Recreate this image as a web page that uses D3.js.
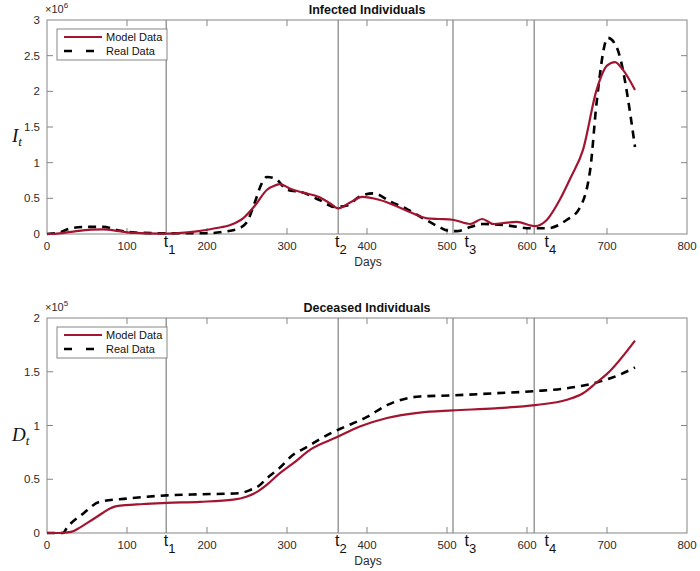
<!DOCTYPE html>
<html>
<head>
<meta charset="utf-8">
<script src="https://cdn.jsdelivr.net/npm/d3@7"></script>
<style>
  body { margin: 0; background: white; }
  text { font-family: "Liberation Sans", Arial, sans-serif; }
</style>
</head>
<body>
<script>

// Infected, values in millions
var infModelDays = [0, 10, 30, 55, 70, 90, 110, 140, 160, 190, 210, 230, 245, 260, 275, 285, 291, 305, 320, 340, 355, 364, 380, 394, 415, 435, 455, 475, 490, 507, 529, 544, 558, 575, 587, 610, 625, 641, 655, 670, 687, 700, 710, 720, 735];
var infModelVals = [0, 0.003, 0.03, 0.06, 0.065, 0.04, 0.015, 0.005, 0.01, 0.04, 0.08, 0.13, 0.22, 0.4, 0.62, 0.68, 0.7, 0.63, 0.58, 0.52, 0.42, 0.36, 0.45, 0.52, 0.48, 0.4, 0.3, 0.22, 0.21, 0.2, 0.14, 0.21, 0.14, 0.16, 0.17, 0.11, 0.2, 0.48, 0.8, 1.18, 2.02, 2.36, 2.41, 2.3, 2.02];

var infRealDays = [0, 15, 30, 50, 70, 90, 110, 150, 200, 220, 240, 250, 260, 268, 275, 285, 300, 320, 340, 360, 375, 390, 408, 430, 450, 470, 490, 500, 512, 530, 545, 575, 604, 625, 650, 665, 679, 687, 701, 712, 735];
var infRealVals = [0, 0.02, 0.08, 0.1, 0.1, 0.05, 0.02, 0.01, 0.01, 0.03, 0.08, 0.17, 0.45, 0.7, 0.8, 0.78, 0.62, 0.58, 0.48, 0.38, 0.4, 0.52, 0.57, 0.45, 0.35, 0.22, 0.1, 0.05, 0.04, 0.1, 0.14, 0.12, 0.08, 0.08, 0.2, 0.35, 0.9, 1.84, 2.75, 2.62, 1.22];

// Deceased, values in 1e5
var decModelDays = [0, 15, 30, 41, 60, 87, 120, 150, 191, 233, 250, 262, 275, 290, 308, 330, 362, 391, 425, 466, 507, 560, 610, 650, 670, 687, 700, 735];
var decModelVals = [0, 0, 0.01, 0.05, 0.14, 0.25, 0.27, 0.28, 0.29, 0.31, 0.34, 0.38, 0.45, 0.55, 0.65, 0.78, 0.89, 0.99, 1.07, 1.12, 1.14, 1.16, 1.19, 1.24, 1.3, 1.4, 1.48, 1.79];

var decRealDays = [0, 20, 25, 45, 66, 100, 150, 191, 240, 254, 265, 275, 290, 308, 320, 358, 370, 400, 425, 466, 507, 560, 610, 662, 687, 715, 735];
var decRealVals = [0, 0, 0.05, 0.18, 0.29, 0.32, 0.35, 0.36, 0.37, 0.4, 0.44, 0.51, 0.6, 0.73, 0.78, 0.94, 0.98, 1.08, 1.19, 1.27, 1.28, 1.3, 1.32, 1.36, 1.4, 1.47, 1.54];

var tDays = [149, 364, 507.5, 609];
var tLabelDays = [146, 360, 522, 622];
var tLabels = ["1", "2", "3", "4"];

var xTicks = [0, 100, 200, 300, 400, 500, 600, 700, 800];
var infTicks = [0, 0.5, 1, 1.5, 2, 2.5, 3];
var decTicks = [0, 0.5, 1, 1.5, 2];

var width = 700, height = 571;
var plot_left = 47, plot_right = 687;
var red = "#A2142F";
var axisColor = "#858585";
var textColor = "#2b2b2b";

var svg = d3.select("body").append("svg")
            .attr("width", width)
            .attr("height", height);

var xScale = d3.scaleLinear().domain([0, 800]).range([plot_left, plot_right]);

function drawPanel(cfg)
{
  var yScale = d3.scaleLinear().domain([0, cfg.ymax]).range([cfg.bottom, cfg.top]);
  var g = svg.append("g");

  // vertical lines at t_i
  g.selectAll("line.tline").data(tDays).enter().append("line")
     .attr("x1", d => xScale(d)).attr("x2", d => xScale(d))
     .attr("y1", cfg.top).attr("y2", cfg.bottom)
     .style("stroke", "#8a8a8a").style("stroke-width", 1.3);

  // ticks inside, both sides
  g.selectAll("line.xt").data(xTicks.slice(1, -1)).enter().append("line")
     .attr("x1", d => xScale(d)).attr("x2", d => xScale(d))
     .attr("y1", cfg.bottom).attr("y2", cfg.bottom - 6)
     .style("stroke", axisColor);
  g.selectAll("line.xt2").data(xTicks.slice(1, -1)).enter().append("line")
     .attr("x1", d => xScale(d)).attr("x2", d => xScale(d))
     .attr("y1", cfg.top).attr("y2", cfg.top + 6)
     .style("stroke", axisColor);
  g.selectAll("line.yt").data(cfg.ticks.slice(1, -1)).enter().append("line")
     .attr("x1", plot_left).attr("x2", plot_left + 6)
     .attr("y1", d => yScale(d)).attr("y2", d => yScale(d))
     .style("stroke", axisColor);
  g.selectAll("line.yt2").data(cfg.ticks.slice(1, -1)).enter().append("line")
     .attr("x1", plot_right).attr("x2", plot_right - 6)
     .attr("y1", d => yScale(d)).attr("y2", d => yScale(d))
     .style("stroke", axisColor);

  // box
  g.append("rect")
     .attr("x", plot_left).attr("y", cfg.top)
     .attr("width", plot_right - plot_left).attr("height", cfg.bottom - cfg.top)
     .style("fill", "none").style("stroke", axisColor).style("stroke-width", 1);

  // tick labels
  g.selectAll("text.xl").data(xTicks).enter().append("text")
     .attr("x", d => xScale(d)).attr("y", cfg.bottom + 16)
     .attr("text-anchor", "middle")
     .style("font-size", "11.5px").style("fill", textColor)
     .text(d => d);
  g.selectAll("text.yl").data(cfg.ticks).enter().append("text")
     .attr("x", plot_left - 7).attr("y", d => yScale(d) + 4)
     .attr("text-anchor", "end")
     .style("font-size", "11.5px").style("fill", textColor)
     .text(d => d);

  // exponent
  var ex = g.append("text").attr("x", plot_left - 2).attr("y", cfg.top - 7)
     .style("font-size", "11px").style("fill", textColor);
  ex.append("tspan").text("\u00d710");
  ex.append("tspan").attr("dy", -5).style("font-size", "8px").text(cfg.exp);

  // t labels
  tLabelDays.forEach(function(d, i)
  {
    var t = g.append("text").attr("x", xScale(d)).attr("y", cfg.bottom + 13)
       .style("font-size", "16px").style("fill", "#111");
    t.append("tspan").text("t");
    t.append("tspan").attr("dy", 7).style("font-size", "13px").text(tLabels[i]);
  });

  // title
  g.append("text").attr("x", 367).attr("y", cfg.top - 6)
     .attr("text-anchor", "middle")
     .style("font-size", "12.5px").style("font-weight", "bold").style("fill", "#111")
     .text(cfg.title);

  // x label
  g.append("text").attr("x", 368).attr("y", cfg.bottom + 32)
     .attr("text-anchor", "middle")
     .style("font-size", "12px").style("fill", textColor)
     .text("Days");

  // y label (math italic)
  var yl = g.append("text").attr("x", 12).attr("y", (cfg.top + cfg.bottom) / 2 + 15)
     .style("font-family", "'Liberation Serif', 'DejaVu Serif', serif")
     .style("font-style", "italic").style("font-size", "19px").style("fill", "#111");
  yl.append("tspan").text(cfg.ylab);
  yl.append("tspan").attr("dy", 4).style("font-size", "13px").text("t");

  // curves
  var line = d3.line()
     .x(d => xScale(d[0]))
     .y(d => yScale(d[1]))
     .curve(d3.curveMonotoneX);

  g.append("path").datum(d3.zip(cfg.realDays, cfg.realVals))
     .attr("d", line)
     .style("fill", "none").style("stroke", "black")
     .style("stroke-width", 2.6).style("stroke-dasharray", "8,6");

  g.append("path").datum(d3.zip(cfg.modelDays, cfg.modelVals))
     .attr("d", line)
     .style("fill", "none").style("stroke", red)
     .style("stroke-width", 2.2);

  // legend
  var lg = g.append("g").attr("transform", "translate(57," + (cfg.top + 9) + ")");
  lg.append("rect").attr("width", 110).attr("height", 31)
     .style("fill", "white").style("stroke", axisColor);
  lg.append("line").attr("x1", 7).attr("x2", 45).attr("y1", 8).attr("y2", 8)
     .style("stroke", red).style("stroke-width", 2.2);
  lg.append("line").attr("x1", 7).attr("x2", 45).attr("y1", 22).attr("y2", 22)
     .style("stroke", "black").style("stroke-width", 2.6).style("stroke-dasharray", "8,14");
  lg.append("text").attr("x", 49).attr("y", 12)
     .style("font-size", "11px").style("fill", "#111").text("Model Data");
  lg.append("text").attr("x", 49).attr("y", 26)
     .style("font-size", "11px").style("fill", "#111").text("Real Data");
}

drawPanel({
  top: 20, bottom: 234, ymax: 3, ticks: infTicks, exp: "6",
  title: "Infected Individuals", ylab: "I",
  modelDays: infModelDays, modelVals: infModelVals,
  realDays: infRealDays, realVals: infRealVals
});

drawPanel({
  top: 318, bottom: 533, ymax: 2, ticks: decTicks, exp: "5",
  title: "Deceased Individuals", ylab: "D",
  modelDays: decModelDays, modelVals: decModelVals,
  realDays: decRealDays, realVals: decRealVals
});

</script>
</body>
</html>
